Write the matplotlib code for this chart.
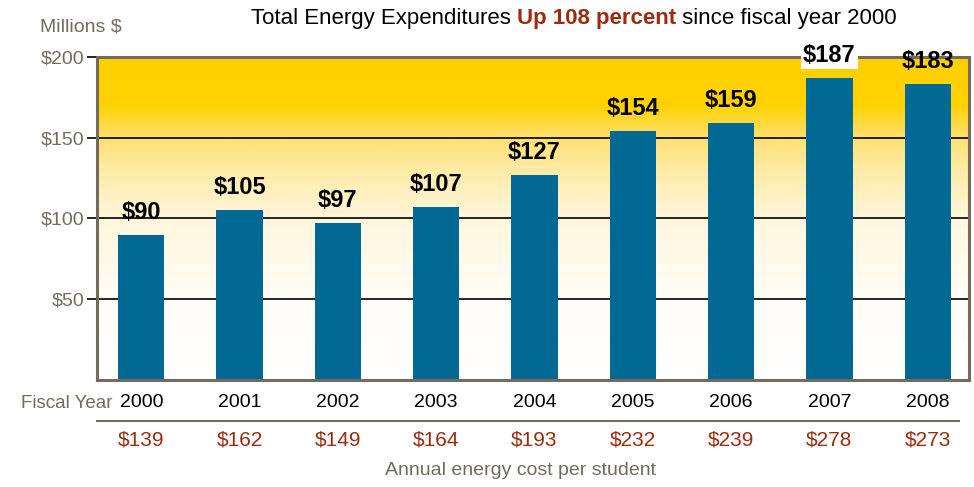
import numpy as np
import matplotlib
matplotlib.use('Agg')
import matplotlib.pyplot as plt
from matplotlib.colors import LinearSegmentedColormap
from matplotlib.transforms import blended_transform_factory

plt.rcParams['font.family'] = ['Liberation Sans', 'DejaVu Sans']

# data
years = ['2000', '2001', '2002', '2003', '2004', '2005', '2006', '2007', '2008']
spending = [90, 105, 97, 107, 127, 154, 159, 187, 183]
per_student = [139, 162, 149, 164, 193, 232, 239, 278, 273]
yticks = [50, 100, 150, 200]

bar_col = '#026894'
frame_col = '#736b5c'
red_col = '#9a2c10'

fig = plt.figure(figsize=(9.74, 4.87), dpi=100)
ax = fig.add_axes([0.0996, 0.2197, 0.8953, 0.6633])

x = np.arange(len(years))
xlim = (-0.45, 8.42)
ylim = (0, 200)

# background gradient (gold at top, white at bottom)
stops = [(0.0, '#ffffff'), (0.25, '#fffdf7'), (0.5, '#fff6dc'),
         (0.65, '#feeba6'), (0.75, '#fee070'), (0.85, '#ffd200'), (1.0, '#ffd000')]
cmap = LinearSegmentedColormap.from_list('bg', stops)
grad = np.linspace(0, 1, 256).reshape(-1, 1)
ax.imshow(grad, cmap=cmap, origin='lower', aspect='auto',
          extent=(xlim[0], xlim[1], ylim[0], ylim[1]), zorder=0)

ax.bar(x, spending, width=0.47, color=bar_col, zorder=3)

for xi, v in zip(x, spending):
    kw = {}
    if v == max(spending):
        kw['bbox'] = dict(facecolor='white', edgecolor='none', pad=1.5)
    ax.annotate(f'${v}', (xi, v), xytext=(0, 8), textcoords='offset points',
                ha='center', va='bottom', fontsize=17, fontweight='bold',
                color='black', zorder=5, annotation_clip=False, **kw)

ax.set_xlim(*xlim)
ax.set_ylim(*ylim)
ax.set_yticks(yticks)
ax.set_yticklabels([f'${t}' for t in yticks], fontsize=14, color=frame_col)
ax.set_xticks([])
ax.tick_params(axis='y', length=7, width=1.2, color='black', pad=2)
ax.grid(axis='y', color='black', lw=1.2, zorder=1)
ax.set_axisbelow(True)
for s in ax.spines.values():
    s.set_color(frame_col)
    s.set_linewidth(2.2)
    s.set_zorder(4)

# title
tx = 0.258
t1 = fig.text(tx, 0.963, 'Total Energy Expenditures ', fontsize=16, color='black', va='center')
fig.canvas.draw()
bb = t1.get_window_extent()
t2 = fig.text(bb.x1 / fig.bbox.width, 0.963, 'Up 108 percent', fontsize=16,
              fontweight='bold', color=red_col, va='center')
fig.canvas.draw()
bb = t2.get_window_extent()
fig.text(bb.x1 / fig.bbox.width, 0.963, ' since fiscal year 2000', fontsize=16,
         color='black', va='center')

fig.text(0.041, 0.945, 'Millions $', fontsize=14, color=frame_col, va='center')

# rows under the chart
tr = blended_transform_factory(ax.transData, ax.transAxes)
for xi, yr, c in zip(x, years, per_student):
    ax.text(xi, -0.071, yr, transform=tr, ha='center', va='center', fontsize=14, color='black')
    ax.text(xi, -0.186, f'${c}', transform=tr, ha='center', va='center', fontsize=15, color=red_col)
ax.plot([xlim[0], 8.32], [-0.127, -0.127], transform=tr, color=frame_col,
        lw=1.5, clip_on=False)
fig.text(0.115, 0.172, 'Fiscal Year', fontsize=13.5, color=frame_col, ha='right', va='center')
fig.text(0.534, 0.033, 'Annual energy cost per student', fontsize=14,
         color=frame_col, ha='center', va='center')

fig.savefig('out.png', dpi=100)
